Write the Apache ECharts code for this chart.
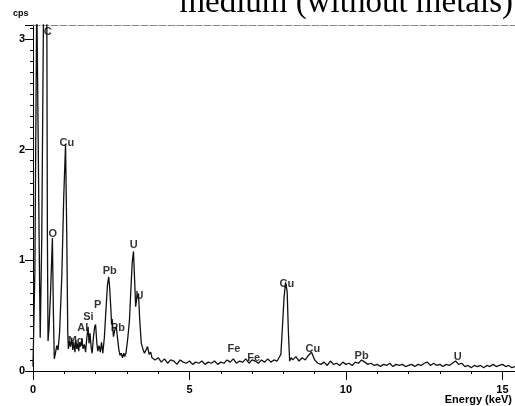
<!DOCTYPE html>
<html>
<head>
<meta charset="utf-8">
<title>EDS spectrum</title>
<script src="https://cdn.jsdelivr.net/npm/echarts@6.0.0/dist/echarts.min.js"></script>
<style>
  html, body { margin: 0; padding: 0; background: #fff; }
  #chart { width: 515px; height: 406px; }
</style>
</head>
<body>
<div id="chart"></div>
<script>
// 0 - 3.8 keV, read point by point (keV / cps)
const lowEnergy = [0.00, 0.06, 0.12, 0.17, 0.21, 0.23, 0.28, 0.34, 0.44, 0.46, 0.48, 0.51, 0.56, 0.62, 0.65, 0.68,
  0.71, 0.76, 0.80, 0.85, 0.92, 0.98, 1.04, 1.08, 1.11, 1.13, 1.17, 1.20, 1.24, 1.27, 1.30, 1.34, 1.37, 1.40,
  1.43, 1.46, 1.49, 1.52, 1.56, 1.60, 1.64, 1.68, 1.72, 1.76, 1.79, 1.82, 1.86, 1.89, 1.93, 1.97, 2.00, 2.04,
  2.07, 2.11, 2.15, 2.19, 2.23, 2.28, 2.33, 2.38, 2.42, 2.45, 2.49, 2.51, 2.53, 2.57, 2.62, 2.66, 2.70, 2.74,
  2.78, 2.82, 2.86, 2.90, 2.93, 2.97, 3.03, 3.08, 3.13, 3.17, 3.21, 3.25, 3.28, 3.32, 3.37, 3.41, 3.46, 3.51,
  3.56, 3.61, 3.66, 3.71, 3.76, 3.80]
const lowCps = [0.04, 0.9, 3.4, 3.4, 0.8, 0.30, 1.2, 3.4, 3.4, 1.2, 0.27, 0.38, 0.70, 1.20, 0.55, 0.11,
  0.15, 0.23, 0.19, 0.35, 0.85, 1.55, 2.05, 1.20, 0.35, 0.20, 0.27, 0.22, 0.30, 0.19, 0.26, 0.17, 0.28, 0.20,
  0.25, 0.18, 0.26, 0.22, 0.29, 0.20, 0.24, 0.17, 0.30, 0.40, 0.25, 0.34, 0.21, 0.16, 0.30, 0.40, 0.42, 0.25,
  0.18, 0.23, 0.17, 0.26, 0.16, 0.30, 0.55, 0.78, 0.85, 0.75, 0.55, 0.42, 0.47, 0.31, 0.38, 0.40, 0.30, 0.20,
  0.14, 0.16, 0.12, 0.16, 0.13, 0.16, 0.30, 0.45, 0.75, 0.98, 1.08, 0.80, 0.58, 0.67, 0.70, 0.46, 0.25, 0.20,
  0.16, 0.19, 0.22, 0.15, 0.17, 0.12]

// 3.9 - 7.8 keV, one reading every 0.1 keV
const midStart = 3.9
const midCps = [0.10, 0.12, 0.08, 0.11, 0.07, 0.10, 0.09, 0.06, 0.10, 0.08, 0.07, 0.09, 0.06, 0.08, 0.07, 0.09,
  0.06, 0.08, 0.07, 0.09, 0.06, 0.08, 0.07, 0.10, 0.08, 0.11, 0.07, 0.09, 0.08, 0.11, 0.07, 0.10, 0.09, 0.07,
  0.10, 0.08, 0.11, 0.08, 0.10, 0.09]

// Cu K alpha
const cuEnergy = [7.86, 7.92, 7.97, 8.02, 8.07, 8.12, 8.16, 8.20, 8.25]
const cuCps = [0.12, 0.15, 0.40, 0.66, 0.80, 0.72, 0.35, 0.09, 0.12]

// 8.3 - 15.4 keV, every 0.1 keV
const highStart = 8.3
const highCps = [0.10, 0.13, 0.09, 0.12, 0.10, 0.14, 0.17, 0.10, 0.07, 0.06, 0.08, 0.05, 0.09, 0.06, 0.07, 0.05,
  0.08, 0.06, 0.07, 0.05, 0.08, 0.07, 0.10, 0.08, 0.06, 0.07, 0.05, 0.06, 0.04, 0.06, 0.05, 0.07, 0.04, 0.06,
  0.05, 0.06, 0.04, 0.05, 0.06, 0.04, 0.06, 0.05, 0.07, 0.08, 0.05, 0.07, 0.05, 0.06, 0.04, 0.06, 0.05, 0.07,
  0.09, 0.06, 0.07, 0.04, 0.05, 0.03, 0.05, 0.04, 0.05, 0.03, 0.05, 0.04, 0.06, 0.04, 0.05, 0.06, 0.04, 0.05,
  0.03, 0.04]

const step = 0.1

// element labels over the peaks
const peakNames = ['C', 'Cu', 'O', 'U', 'Pb', 'U', 'P', 'Si', 'Al', 'Mg', 'Pb', 'Fe', 'Fe', 'Cu', 'Cu', 'Pb', 'U']
const peakEnergy = [0.47, 1.08, 0.63, 3.22, 2.45, 3.40, 2.07, 1.77, 1.59, 1.36, 2.71, 6.42, 7.05, 8.11, 8.94, 10.5, 13.57]
const peakHeight = [3.06, 2.06, 1.24, 1.14, 0.90, 0.68, 0.60, 0.49, 0.39, 0.27, 0.39, 0.20, 0.115, 0.79, 0.20, 0.14, 0.13]

const xMax = 15.4
const yMax = 3.125

let spectrum = []
lowEnergy.forEach((e, i) => spectrum.push([e, lowCps[i]]))
midCps.forEach((v, i) => spectrum.push([+(midStart + i * step).toFixed(2), v]))
cuEnergy.forEach((e, i) => spectrum.push([e, cuCps[i]]))
highCps.forEach((v, i) => spectrum.push([+(highStart + i * step).toFixed(2), v]))

let labelData = peakNames.map((n, i) => [peakEnergy[i], peakHeight[i], n])

const sans = '"Liberation Sans", Arial, sans-serif'

let chart = echarts.init(document.getElementById('chart'))
chart.setOption({
  animation: false,
  grid: { left: 33, right: 0, top: 25, bottom: 35 },
  xAxis: [{
    type: 'value',
    min: 0,
    max: xMax,
    interval: 5,
    axisLine: { lineStyle: { color: '#000', width: 1 } },
    axisTick: { length: 9, lineStyle: { color: '#000' } },
    minorTick: { show: true, splitNumber: 5, length: 3, lineStyle: { color: '#000' } },
    axisLabel: { margin: 13, color: '#000', fontSize: 11, fontWeight: 'bold', fontFamily: sans, showMaxLabel: false },
    splitLine: { show: false }
  }, {
    // dashed frame line on top
    type: 'value',
    position: 'top',
    min: 0,
    max: xMax,
    axisLine: { show: true, lineStyle: { color: '#888', width: 1, type: [7, 2] } },
    axisTick: { show: false },
    axisLabel: { show: false },
    splitLine: { show: false }
  }],
  yAxis: {
    type: 'value',
    min: 0,
    max: yMax,
    interval: 1,
    axisLine: { show: true, lineStyle: { color: '#000', width: 1 } },
    axisTick: { show: true, length: 8, lineStyle: { color: '#000' } },
    minorTick: { show: true, splitNumber: 10, length: 3, lineStyle: { color: '#000' } },
    axisLabel: { margin: 8, color: '#000', fontSize: 11, fontWeight: 'bold', fontFamily: sans, showMaxLabel: false },
    splitLine: { show: false }
  },
  series: [{
    type: 'line',
    data: spectrum,
    symbol: 'none',
    clip: true,
    lineStyle: { color: '#111', width: 1.3 }
  }, {
    type: 'scatter',
    data: labelData,
    symbolSize: 1,
    silent: true,
    itemStyle: { color: 'rgba(0,0,0,0)' },
    label: {
      show: true,
      position: 'inside',
      formatter: p => p.data[2],
      color: '#000',
      fontSize: 11,
      fontWeight: 'bold',
      fontFamily: sans
    }
  }],
  graphic: [{
    type: 'text',
    style: { x: 513, y: 3, text: 'medium (without metals)', align: 'right', verticalAlign: 'middle',
      font: '33px "Liberation Serif", "Times New Roman", serif', fill: '#000' }
  }, {
    type: 'text',
    style: { x: 13, y: 14, text: 'cps', align: 'left', verticalAlign: 'middle',
      font: 'bold 9px ' + sans, fill: '#000' }
  }, {
    type: 'text',
    style: { x: 512, y: 400, text: 'Energy (keV)', align: 'right', verticalAlign: 'middle',
      font: 'bold 11px ' + sans, fill: '#000' }
  }]
})
</script>
</body>
</html>
